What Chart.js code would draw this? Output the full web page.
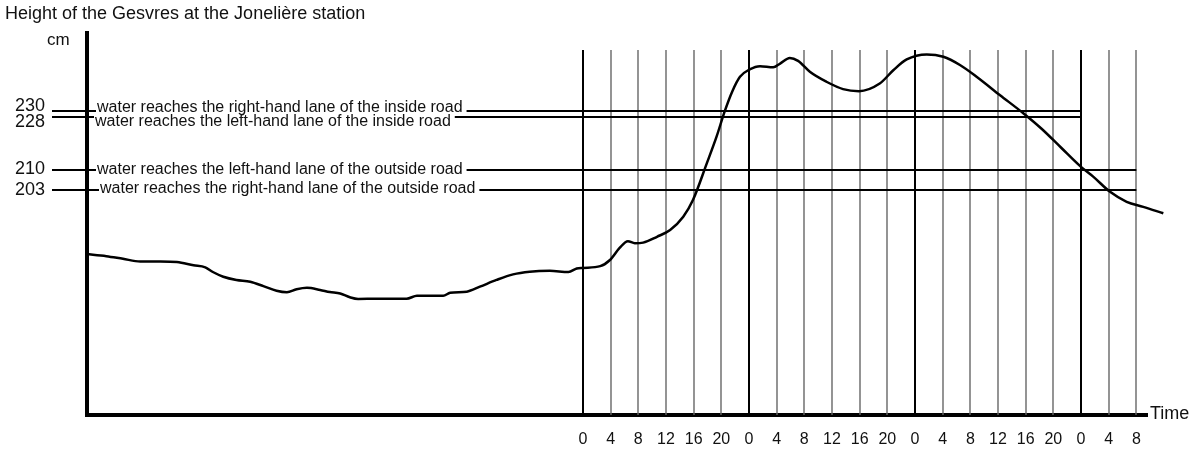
<!DOCTYPE html>
<html>
<head>
<meta charset="utf-8">
<script src="https://cdn.jsdelivr.net/npm/chart.js@4.4.1/dist/chart.umd.min.js"></script>
<style>
  body { margin: 0; background: #fff; }
  canvas { display: block; }
</style>
</head>
<body>
<canvas id="gesvresChart" width="1195" height="451"></canvas>
<script>
const chartTitle = 'Height of the Gesvres at the Jonelière station';
const yUnit = 'cm';
const xUnit = 'Time';

// hours counted from the first midnight marked on the time axis
const hours = [
    -71.8, -68.9, -66.5, -64.0, -61.1, -58.7, -56.3, -54.6, -53.5, -52.0,
    -50.1, -48.1, -46.2, -44.3, -42.8, -41.4, -39.9, -38.0, -36.6, -35.1,
    -33.7, -32.5, -29.8, -25.5, -24.0, -20.2, -19.2, -16.8, -14.9, -12.5,
    -10.1, -7.7, -4.8, -2.1, -0.9, 0, 2.5, 3.9, 5.3, 6.5,
    7.5, 8.7, 10.7, 12.6, 14.5, 15.9, 17.9, 19.3, 20.5, 21.6,
    22.7, 24.1, 25.6, 27.5, 28.5, 29.9, 31.1, 32.8, 35.2, 37.6,
    39.9, 42.9, 44.9, 46.8, 49.7, 52.1, 54.5, 56.9, 60.3, 63.7,
    66.3, 69.1, 72.0, 73.8, 76.2, 78.6, 81.0, 83.9
];
// water height in cm
const heights = [
    181.3, 180.6, 179.7, 178.8, 178.8, 178.6, 177.5, 176.8, 175.2, 173.6,
    172.5, 171.9, 170.4, 168.8, 168.3, 169.3, 169.8, 169.1, 168.4, 167.9,
    166.6, 166.0, 166.1, 166.1, 167.1, 167.1, 168.1, 168.5, 170.2, 172.5,
    174.4, 175.3, 175.6, 175.2, 176.4, 176.6, 177.2, 179.3, 183.4, 185.7,
    185.0, 185.2, 187.2, 189.5, 194.0, 199.7, 212.2, 221.2, 230.0, 236.8,
    241.7, 244.2, 245.3, 244.9, 246.2, 248.1, 247.1, 243.4, 240.0, 237.5,
    236.8, 239.4, 244.0, 247.6, 249.3, 248.5, 245.7, 241.7, 235.4, 229.2,
    224.0, 217.6, 211.0, 207.6, 202.5, 199.1, 197.4, 195.2
];

const thresholdValues = [230, 228, 210, 203];
const thresholdLabels = [
    'water reaches the right-hand lane of the inside road',
    'water reaches the left-hand lane of the inside road',
    'water reaches the left-hand lane of the outside road',
    'water reaches the right-hand lane of the outside road'
];
const thresholdEnds = [72, 72, 80, 80];

const timeTicks = [0, 4, 8, 12, 16, 20, 24, 28, 32, 36, 40, 44, 48, 52, 56, 60, 64, 68, 72, 76, 80];
const timeTickLabels = ['0', '4', '8', '12', '16', '20', '0', '4', '8', '12', '16', '20',
    '0', '4', '8', '12', '16', '20', '0', '4', '8'];

// drawing styles for the threshold annotations
const numberShift = [-5, 5, -1, 0];
const textShift = [-3, 5, 0, -1];
const textStart = [97, 95, 97, 100];
const gridTopValue = 250.8;

const font = '"Liberation Sans", Arial, sans-serif';

const decor = {
    id: 'decor',
    beforeDatasetsDraw(chart) {
        const { ctx, chartArea, scales: { x, y } } = chart;
        const gridTop = y.getPixelForValue(gridTopValue);
        ctx.save();
        timeTicks.forEach(h => {
            const px = Math.round(x.getPixelForValue(h));
            const isDay = h % 24 === 0;
            ctx.strokeStyle = isDay ? '#000' : '#666';
            ctx.lineWidth = isDay ? 2 : 1.4;
            ctx.beginPath();
            ctx.moveTo(px, gridTop);
            ctx.lineTo(px, chartArea.bottom);
            ctx.stroke();
        });

        ctx.font = '16px ' + font;
        ctx.textBaseline = 'middle';
        ctx.strokeStyle = '#000';
        ctx.lineWidth = 2;
        thresholdValues.forEach((v, i) => {
            const py = Math.round(y.getPixelForValue(v));
            const tx = textStart[i];
            const tw = ctx.measureText(thresholdLabels[i]).width;
            ctx.beginPath();
            ctx.moveTo(52, py);
            ctx.lineTo(tx - 1, py);
            ctx.moveTo(tx + tw + 4, py);
            ctx.lineTo(x.getPixelForValue(thresholdEnds[i]), py);
            ctx.stroke();
            ctx.fillStyle = '#111';
            ctx.textAlign = 'left';
            ctx.fillText(thresholdLabels[i], tx, py + textShift[i]);
        });
        ctx.restore();
    },
    afterDraw(chart) {
        const { ctx, scales: { x, y } } = chart;
        ctx.save();
        ctx.fillStyle = '#111';
        ctx.textBaseline = 'middle';

        ctx.font = '18px ' + font;
        ctx.textAlign = 'left';
        ctx.fillText(chartTitle, 5, 14);
        ctx.fillText(xUnit, 1150, 414);
        ctx.font = '17px ' + font;
        ctx.fillText(yUnit, 47, 40);

        ctx.font = '18px ' + font;
        ctx.textAlign = 'right';
        thresholdValues.forEach((v, i) => {
            ctx.fillText(String(v), 45, y.getPixelForValue(v) + numberShift[i]);
        });

        ctx.font = '16px ' + font;
        ctx.textAlign = 'center';
        timeTicks.forEach((h, i) => {
            ctx.fillText(timeTickLabels[i], x.getPixelForValue(h), 440);
        });
        ctx.restore();
    }
};

const ctx = document.getElementById('gesvresChart').getContext('2d');

new Chart(ctx, {
    type: 'line',
    data: {
        datasets: [{
            data: hours.map((h, i) => ({ x: h, y: heights[i] })),
            borderColor: '#000',
            borderWidth: 2.5,
            pointRadius: 0,
            cubicInterpolationMode: 'monotone',
            clip: false,
            fill: false
        }]
    },
    options: {
        responsive: false,
        animation: false,
        layout: { padding: { left: 87, right: 48, top: 33, bottom: 36 } },
        plugins: {
            legend: { display: false },
            title: { display: false },
            tooltip: { enabled: false }
        },
        scales: {
            x: {
                type: 'linear',
                min: -71.7,
                max: 81.54,
                grid: { display: false, drawTicks: false },
                ticks: { display: false },
                border: { display: true, color: '#000', width: 4 }
            },
            y: {
                type: 'linear',
                min: 126.5,
                max: 256.6,
                grid: { display: false, drawTicks: false },
                ticks: { display: false },
                border: { display: true, color: '#000', width: 4 }
            }
        }
    },
    plugins: [decor]
});
</script>
</body>
</html>
